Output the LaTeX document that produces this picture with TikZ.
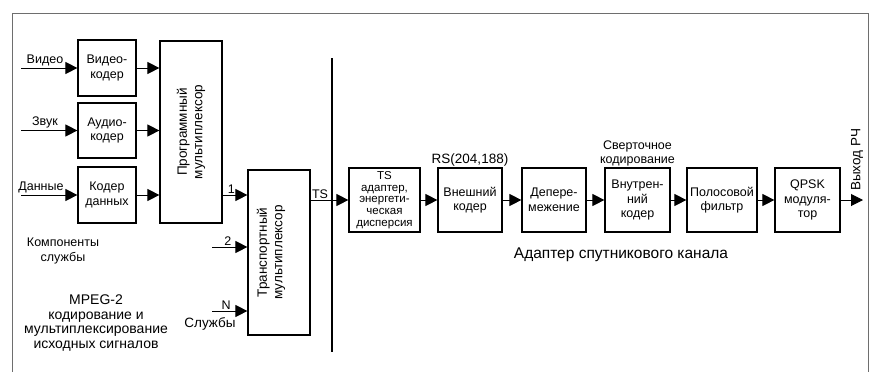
\documentclass[tikz,border=0pt]{standalone}
\usepackage{fontspec}
\setmainfont{Liberation Sans}
\usetikzlibrary{
  arrows.meta,
  positioning
}
\definecolor{framegray}{RGB}{110,110,110}
\newcommand{\blockfont}{\fontsize{12.5}{14.5}\selectfont}
\newcommand{\densefont}{\fontsize{11.5}{11.8}\selectfont}
\newcommand{\muxfont}{\fontsize{13.5}{15.5}\selectfont}
\tikzset{
  blockbox/.style={
    draw,
    line width=1.2pt,
    align=center,
    inner sep=1pt,
    minimum width=64pt,
    minimum height=64pt,
    font=\blockfont
  },
  coderbox/.style={blockbox,minimum width=58pt,minimum height=56pt},
  muxbox/.style={blockbox,minimum width=62pt},
  muxtext/.style={rotate=90,align=center,inner sep=0pt,font=\muxfont},
  sigtext/.style={align=center,inner sep=1pt,font=\blockfont},
  sigarrow/.style={-{Triangle[length=12pt,width=12pt]},line width=1pt},
  busbar/.style={line width=2.2pt},
  frameline/.style={draw=framegray,line width=1pt},
}
\begin{document}
\begin{tikzpicture}[x=1pt,y=-1pt]
  \useasboundingbox (0,0) rectangle (873,372);
  \draw[frameline] (12,380) -- (12,13) -- (868,13) -- (868,380);

  % Source coding and programme multiplexing
  \node[coderbox] (vcoder) at (107,68) {Видео-\\кодер};
  \node[coderbox,minimum height=55pt] (acoder) at (107,130.5) {Аудио-\\кодер};
  \node[coderbox] (dcoder) at (107,195) {Кодер\\данных};
  \node[muxbox,minimum height=182pt] (progmux) at (191,132) {};
  \node[muxtext] (progmuxlbl) at (progmux) {Программный\\мультиплексор};

  \coordinate (vin) at (21,68);
  \coordinate (ain) at (21,130.5);
  \coordinate (din) at (21,195);
  \draw[sigarrow] (vin) -- (vcoder.west);
  \draw[sigarrow] (ain) -- (acoder.west);
  \draw[sigarrow] (din) -- (dcoder.west);
  \node[sigtext,anchor=south] (vinlbl) at (45,67) {Видео};
  \node[sigtext,anchor=south] (ainlbl) at (45,129.5) {Звук};
  \node[sigtext,anchor=south] (dinlbl) at (41,194) {Данные};
  \draw[sigarrow] (vcoder.east) -- (progmux.west |- vcoder);
  \draw[sigarrow] (acoder.east) -- (progmux.west |- acoder);
  \draw[sigarrow] (dcoder.east) -- (progmux.west |- dcoder);

  \node[sigtext] (complbl) at (63,251) {Компоненты\\службы};
  \node[sigtext,font=\fontsize{14}{14.8}\selectfont] (mpeglbl) at (96,323)
    {MPEG-2\\кодирование и\\мультиплексирование\\исходных сигналов};

  % Transport multiplexing
  \node[muxbox,minimum height=165pt] (transmux) at (279,252.5) {};
  \node[muxtext,yshift=8pt] (transmuxlbl) at (transmux) {Транспортный\\мультиплексор};
  \draw[sigarrow] (progmux.east |- dcoder) -- (transmux.west |- dcoder)
    node[sigtext,pos=0.35,above] (in1lbl) {1};
  \coordinate (in2) at (212,247);
  \coordinate (inN) at (212,311);
  \draw[sigarrow] (in2) -- (transmux.west |- in2)
    node[sigtext,pos=0.45,above] (in2lbl) {2};
  \draw[sigarrow] (inN) -- (transmux.west |- inN)
    node[sigtext,pos=0.4,above] (inNlbl) {N};
  \node[sigtext,font=\muxfont] (servlbl) at (210,324) {Службы};

  \coordinate (bartop) at (332,58);
  \coordinate (barbot) at (332,352);
  \draw[busbar] (bartop) -- (barbot);

  % Satellite channel adapter
  \node[blockbox,minimum width=71pt,font=\densefont] (tsad) at (384.5,200)
    {TS\\адаптер,\\энергети-\\ческая\\дисперсия};
  \node[blockbox] (outcoder) at (470,200) {Внешний\\кодер};
  \node[blockbox] (deint) at (554,200) {Депере-\\межение};
  \node[blockbox,minimum width=65pt] (incoder) at (637.5,200) {Внутрен-\\ний\\кодер};
  \node[blockbox,minimum width=70pt] (bpf) at (722,200) {Полосовой\\фильтр};
  \node[blockbox,minimum width=65pt] (qpsk) at (807.5,200) {QPSK\\модуля-\\тор};

  \draw[sigarrow] (transmux.east |- tsad) -- (tsad.west)
    node[sigtext,pos=0.25,above] (tslbl) {TS};
  \draw[sigarrow] (tsad) -- (outcoder);
  \draw[sigarrow] (outcoder) -- (deint);
  \draw[sigarrow] (deint) -- (incoder);
  \draw[sigarrow] (incoder) -- (bpf);
  \draw[sigarrow] (bpf) -- (qpsk);
  \coordinate (rfout) at (863,200);
  \draw[sigarrow] (qpsk) -- (rfout);
  \node[sigtext,font=\muxfont,rotate=90,anchor=west] (rflbl) at (857,192) {Выход РЧ};

  \node[sigtext,font=\muxfont,anchor=south] (rslbl) at (outcoder.north) {RS(204,188)};
  \node[sigtext,anchor=south] (convlbl) at (incoder.north) {Сверточное\\кодирование};
  \node[sigtext,font=\fontsize{15.5}{17}\selectfont] (adaptlbl) at (621,255)
    {Адаптер спутникового канала};
\end{tikzpicture}
\end{document}
